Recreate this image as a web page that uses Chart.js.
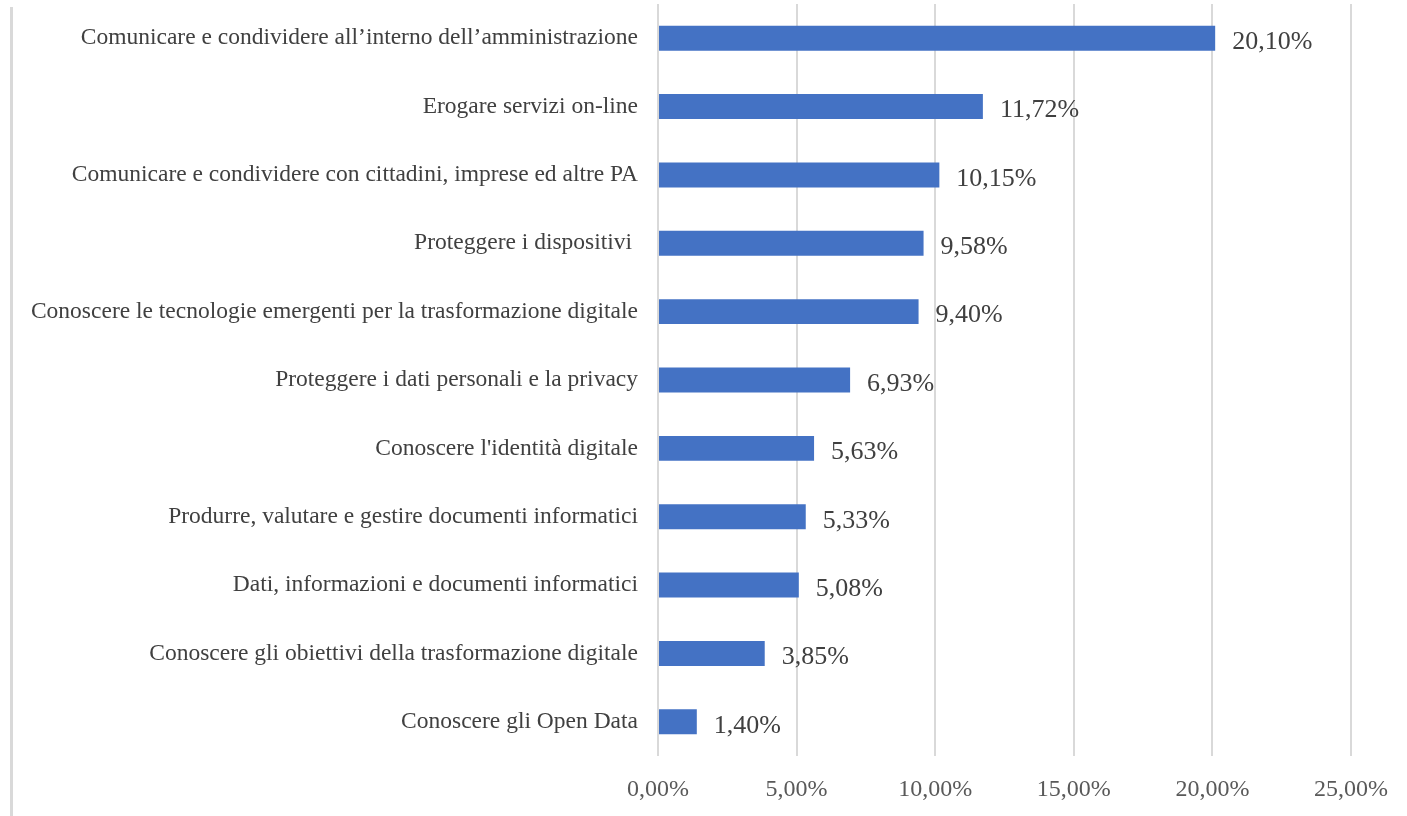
<!DOCTYPE html>
<html>
<head>
<meta charset="utf-8">
<script src="https://cdn.jsdelivr.net/npm/chart.js@4"></script>
<style>
  html, body { margin: 0; padding: 0; background: #fff; }
  #wrap { width: 1407px; height: 816px; }
</style>
</head>
<body>
<div id="wrap"><canvas id="plot" width="1407" height="816"></canvas></div>
<script>
var categories = [
    "Comunicare e condividere all\u2019interno dell\u2019amministrazione",
    "Erogare servizi on-line",
    "Comunicare e condividere con cittadini, imprese ed altre PA",
    "Proteggere i dispositivi ",
    "Conoscere le tecnologie emergenti per la trasformazione digitale",
    "Proteggere i dati personali e la privacy",
    "Conoscere l'identità digitale",
    "Produrre, valutare e gestire documenti informatici",
    "Dati, informazioni e documenti informatici",
    "Conoscere gli obiettivi della trasformazione digitale",
    "Conoscere gli Open Data"
];
var values = [20.10, 11.72, 10.15, 9.58, 9.40, 6.93, 5.63, 5.33, 5.08, 3.85, 1.40];
var xTicks = [0, 5, 10, 15, 20, 25];

function pct(v) {
    return v.toFixed(2).replace(".", ",") + "%";
}

var serif = "'Liberation Serif', 'Times New Roman', serif";

var frameLine = {
    id: "frameLine",
    beforeDraw: function(chart) {
        var ctx = chart.ctx;
        ctx.save();
        ctx.strokeStyle = "#d9d9d9";
        ctx.lineWidth = 3;
        ctx.beginPath();
        ctx.moveTo(11.5, 7);
        ctx.lineTo(11.5, 816);
        ctx.stroke();
        ctx.restore();
    }
};

var valueLabels = {
    id: "valueLabels",
    afterDatasetsDraw: function(chart) {
        var ctx = chart.ctx;
        var meta = chart.getDatasetMeta(0);
        ctx.save();
        ctx.font = "26px " + serif;
        ctx.fillStyle = "#404040";
        ctx.textAlign = "left";
        ctx.textBaseline = "middle";
        meta.data.forEach(function(bar, i) {
            ctx.fillText(pct(values[i]), bar.x + 17, bar.y + 4);
        });
        ctx.restore();
    }
};

new Chart(document.getElementById("plot"), {
    type: "bar",
    data: {
        labels: categories,
        datasets: [{
            data: values,
            backgroundColor: "#4472c4",
            borderWidth: 0,
            barPercentage: 0.73,
            categoryPercentage: 0.5
        }]
    },
    options: {
        indexAxis: "y",
        responsive: false,
        animation: false,
        layout: { padding: { left: 0, right: 0, top: 4, bottom: 0 } },
        plugins: {
            legend: { display: false },
            tooltip: { enabled: false }
        },
        scales: {
            x: {
                min: 0,
                max: 25,
                afterBuildTicks: function(scale) {
                    scale.ticks = xTicks.map(function(v) { return { value: v }; });
                },
                afterFit: function(scale) {
                    scale.height = 60;
                    scale.paddingTop = 0;
                    scale.paddingBottom = 0;
                },
                grid: { color: "#d9d9d9", lineWidth: 2, drawTicks: false },
                border: { display: false },
                ticks: {
                    padding: 19,
                    color: "#595959",
                    font: { family: serif, size: 24 },
                    callback: function(v) { return pct(v); }
                }
            },
            y: {
                afterFit: function(scale) {
                    scale.width = 658;
                    scale.paddingTop = 0;
                    scale.paddingBottom = 0;
                },
                grid: { display: false, drawTicks: false },
                border: { display: false },
                ticks: {
                    padding: 20,
                    color: "#404040",
                    font: { family: serif, size: 23.5 }
                }
            }
        }
    },
    plugins: [frameLine, valueLabels]
});
</script>
</body>
</html>
